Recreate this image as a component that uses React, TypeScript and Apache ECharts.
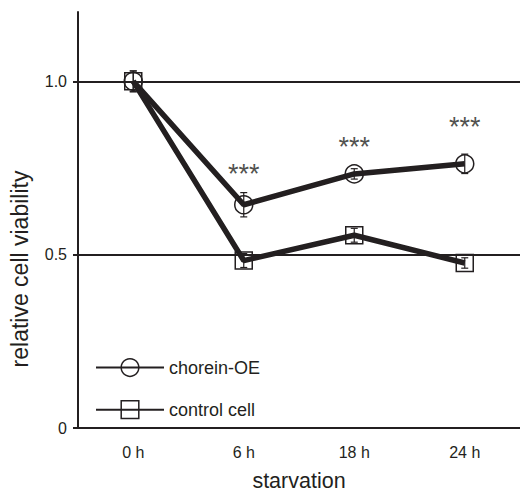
import React, { useEffect, useRef } from "react";
import * as echarts from "echarts";

const categories = ["0 h", "6 h", "18 h", "24 h"];
const choreinOE = [1.0, 0.644, 0.733, 0.762];
const choreinErr = [0.03, 0.035, 0.015, 0.028];
const controlCell = [1.0, 0.483, 0.556, 0.476];
const controlErr = [0.03, 0.02, 0.02, 0.015];
const sigLabels = ["", "***", "***", "***"];
const sigPos = [null, 0.734, 0.811, 0.869];
const yTicks = [0, 0.5, 1.0];
const refLines = [0.5, 1.0];

const INK = "#231f20";
const FONT = "'Liberation Sans', Arial, sans-serif";

export default function App() {
  const ref = useRef<HTMLDivElement>(null);
  useEffect(() => {
    if (!ref.current) return;
    const chart = echarts.init(ref.current, undefined, { renderer: "svg" });

    const errSeries = (vals: number[], errs: number[], name: string) => ({
      type: "custom",
      name,
      z: 4,
      silent: true,
      data: vals.map((v, i) => [i, v - errs[i], v + errs[i]]),
      renderItem: (params: any, api: any) => {
        const x = api.value(0);
        const lo = api.coord([x, api.value(1)]);
        const hi = api.coord([x, api.value(2)]);
        const w = 3.5;
        const st = { stroke: INK, lineWidth: 1.2 };
        return {
          type: "group",
          children: [
            { type: "line", shape: { x1: lo[0], y1: lo[1], x2: hi[0], y2: hi[1] }, style: st },
            { type: "line", shape: { x1: lo[0] - w, y1: lo[1], x2: lo[0] + w, y2: lo[1] }, style: st },
            { type: "line", shape: { x1: hi[0] - w, y1: hi[1], x2: hi[0] + w, y2: hi[1] }, style: st },
          ],
        };
      },
    });

    chart.setOption({
      animation: false,
      textStyle: { fontFamily: FONT, color: INK },
      grid: { left: 78, right: 0, top: 12, bottom: 64 },
      legend: {
        orient: "vertical",
        left: 95,
        top: 358,
        padding: 0,
        itemWidth: 68,
        itemHeight: 22,
        itemGap: 23,
        data: ["chorein-OE", "control cell"],
        textStyle: { fontSize: 18, color: INK, fontFamily: FONT },
        lineStyle: { width: 2, color: INK },
        itemStyle: { color: "transparent", borderColor: INK, borderWidth: 1.5 },
      },
      xAxis: {
        type: "category",
        data: categories,
        boundaryGap: true,
        axisLine: { lineStyle: { color: INK, width: 2 } },
        axisTick: { show: false },
        axisLabel: { fontSize: 16, color: INK, margin: 16, fontFamily: FONT },
        name: "starvation",
        nameLocation: "middle",
        nameGap: 42,
        nameTextStyle: { fontSize: 21.5, color: INK, fontFamily: FONT },
      },
      yAxis: {
        type: "value",
        min: 0,
        max: 1.2,
        interval: 0.5,
        axisLine: { show: true, lineStyle: { color: INK, width: 2 } },
        axisTick: { show: true, length: 5, customValues: yTicks, lineStyle: { color: INK, width: 2 } },
        axisLabel: {
          fontSize: 16,
          color: INK,
          margin: 11,
          fontFamily: FONT,
          customValues: yTicks,
          formatter: (v: number) => (v === 0 ? "0" : v.toFixed(1)),
        },
        splitLine: { show: false },
      },
      graphic: [
        {
          type: "text",
          x: 20,
          y: 269,
          rotation: Math.PI / 2,
          style: {
            text: "relative cell viability",
            fontSize: 23,
            fontFamily: FONT,
            fill: INK,
            align: "center",
            verticalAlign: "middle",
          },
        },
      ],
      series: [
        {
          type: "line",
          name: "chorein-OE",
          data: choreinOE,
          symbol: "circle",
          symbolSize: 18,
          z: 3,
          lineStyle: { color: INK, width: 5.5 },
          itemStyle: { color: "transparent", borderColor: INK, borderWidth: 1.5 },
          markLine: {
            silent: true,
            symbol: "none",
            label: { show: false },
            lineStyle: { color: INK, width: 2, type: "solid" },
            data: refLines.map((v) => ({ yAxis: v })),
          },
        },
        {
          type: "line",
          name: "control cell",
          data: controlCell,
          symbol: "rect",
          symbolSize: 17,
          z: 3,
          lineStyle: { color: INK, width: 5.5 },
          itemStyle: { color: "transparent", borderColor: INK, borderWidth: 1.5 },
        },
        errSeries(choreinOE, choreinErr, "err-chorein"),
        errSeries(controlCell, controlErr, "err-control"),
        {
          type: "scatter",
          name: "sig",
          symbolSize: 0,
          silent: true,
          data: sigPos.map((v, i) => (v === null ? null : { value: [i, v], label: { formatter: sigLabels[i] } })).filter((d) => d !== null),
          label: {
            show: true,
            position: "inside",
            fontSize: 27,
            color: INK,
            fontFamily: FONT,
          },
        },
      ],
    });
    return () => chart.dispose();
  }, []);
  return <div ref={ref} style={{ width: 520, height: 497, position: "absolute", left: 0, top: 0 }} />;
}
